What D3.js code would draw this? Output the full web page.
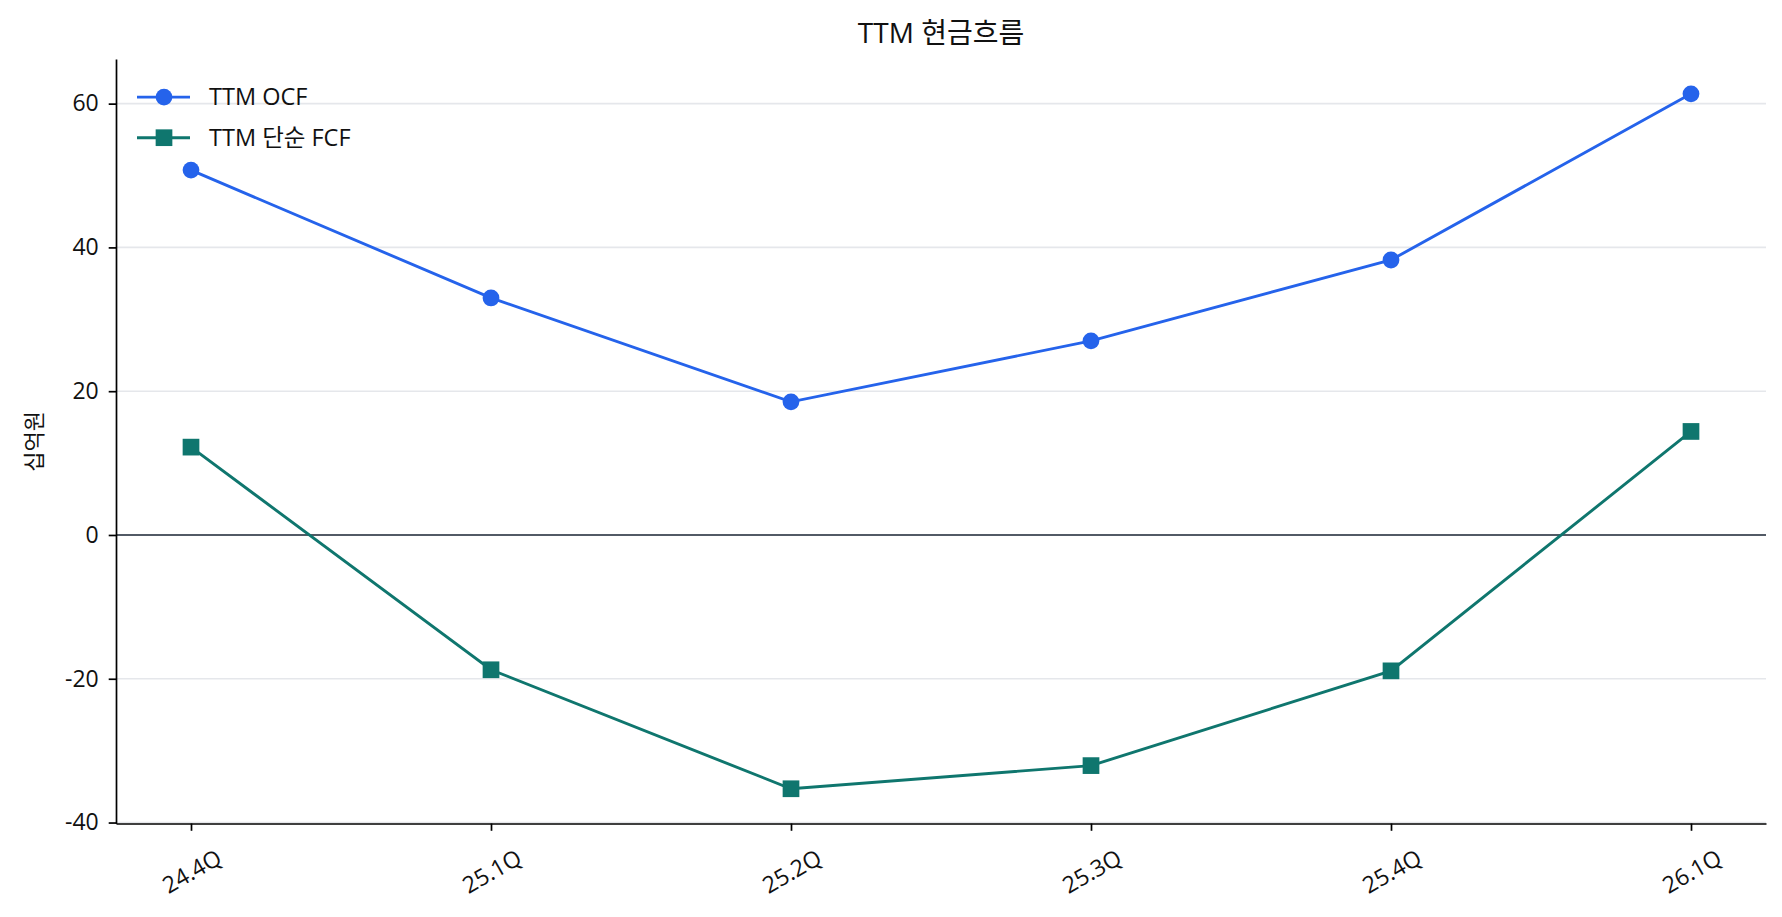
<!DOCTYPE html>
<html>
<head>
<meta charset="utf-8">
<script src="https://cdn.jsdelivr.net/npm/d3@7"></script>
<style>
    body { margin: 0; background: #fff; }
    svg text { font-family: "Open Sans", "Noto Sans CJK KR", sans-serif; fill: #111; }
</style>
</head>
<body>
<div id="chart_ttm"></div>
<script>
const quarters = ["24.4Q", "25.1Q", "25.2Q", "25.3Q", "25.4Q", "26.1Q"];
const ttmOcf = [50.75, 32.97, 18.52, 27.0, 38.25, 61.36];
const ttmFcf = [12.22, -18.75, -35.3, -32.08, -18.9, 14.4];
const seriesNames = ["TTM OCF", "TTM 단순 FCF"];
const yTicks = [-40, -20, 0, 20, 40, 60];

function create_linechart(id_chart, margin, width, height) {

    const series = [
        {name: seriesNames[0], values: ttmOcf, color: "#2563eb", marker: "circle"},
        {name: seriesNames[1], values: ttmFcf, color: "#0f766e", marker: "square"}
    ];

    const all = ttmOcf.concat(ttmFcf);
    const lo = d3.min(all), hi = d3.max(all);
    const pad = (hi - lo) * 0.05;

    const x = d3.scalePoint()
        .domain(quarters)
        .range([0, width])
        .padding(0.25);
    const y = d3.scaleLinear()
        .domain([lo - pad, hi + pad])
        .range([height, 0]);

    const svg = d3.select(id_chart)
        .append("svg")
        .attr("width", width + margin.left + margin.right)
        .attr("height", height + margin.top + margin.bottom)
        .append("g")
        .attr("transform", "translate(" + margin.left + "," + margin.top + ")");

    // grid
    svg.append("g")
        .selectAll("line")
        .data(yTicks)
        .enter().append("line")
        .attr("x1", 0)
        .attr("x2", width)
        .attr("y1", d => y(d))
        .attr("y2", d => y(d))
        .style("stroke", "#e5e7eb")
        .style("stroke-width", 1.6);

    // zero line
    svg.append("line")
        .attr("x1", 0)
        .attr("x2", width)
        .attr("y1", y(0))
        .attr("y2", y(0))
        .style("stroke", "#1f2937")
        .style("stroke-width", 1.6);

    const yAxis = svg.append("g")
        .call(d3.axisLeft(y).tickValues(yTicks).tickSize(7.3).tickSizeOuter(0)
            .tickPadding(10).tickFormat(d => String(d)));
    const xAxis = svg.append("g")
        .attr("transform", "translate(0," + height + ")")
        .call(d3.axisBottom(x).tickSize(7.3).tickSizeOuter(0));

    [yAxis, xAxis].forEach(function (a) {
        a.select(".domain").style("stroke", "#000").style("stroke-width", 1.7);
        a.selectAll(".tick line").style("stroke", "#000").style("stroke-width", 1.7);
        a.selectAll(".tick text").style("font-size", "23px").style("fill", "#111");
    });

    xAxis.selectAll(".tick text")
        .attr("y", 0)
        .attr("dy", null)
        .attr("text-anchor", "middle")
        .attr("dominant-baseline", "central")
        .attr("transform", "translate(0,47) rotate(-30)");

    const line = d3.line()
        .x((d, i) => x(quarters[i]))
        .y(d => y(d));

    series.forEach(function (s) {
        svg.append("path")
            .datum(s.values)
            .attr("d", line)
            .style("fill", "none")
            .style("stroke", s.color)
            .style("stroke-width", 2.9);

        const sym = d3.symbol()
            .type(s.marker === "circle" ? d3.symbolCircle : d3.symbolSquare)
            .size(s.marker === "circle" ? Math.PI * 8.4 * 8.4 : 16.7 * 16.7);

        svg.selectAll(".m-" + s.marker)
            .data(s.values)
            .enter().append("path")
            .attr("class", "m-" + s.marker)
            .attr("d", sym)
            .attr("transform", (d, i) => "translate(" + x(quarters[i]) + "," + y(d) + ")")
            .style("fill", s.color);
    });

    // legend
    const legend = svg.append("g")
        .attr("transform", "translate(21,38)");
    series.forEach(function (s, i) {
        const g = legend.append("g")
            .attr("transform", "translate(0," + (i * 40.6) + ")");
        g.append("line")
            .attr("x1", 0)
            .attr("x2", 53)
            .style("stroke", s.color)
            .style("stroke-width", 2.9);
        g.append("path")
            .attr("d", d3.symbol()
                .type(s.marker === "circle" ? d3.symbolCircle : d3.symbolSquare)
                .size(s.marker === "circle" ? Math.PI * 8.4 * 8.4 : 16.7 * 16.7))
            .attr("transform", "translate(27,0)")
            .style("fill", s.color);
        g.append("text")
            .attr("x", 72)
            .attr("dy", "0.35em")
            .style("font-size", "23.5px")
            .text(s.name);
    });

    // title and y label
    svg.append("text")
        .attr("x", width / 2)
        .attr("y", -16)
        .attr("text-anchor", "middle")
        .style("font-size", "28px")
        .text("TTM 현금흐름");

    svg.append("text")
        .attr("transform", "translate(-82," + (height / 2) + ") rotate(-90)")
        .attr("text-anchor", "middle")
        .attr("dy", "0.35em")
        .style("font-size", "22px")
        .text("십억원");
}

const margin = {top: 59.1, right: 16, bottom: 93.5, left: 116},
    width = 1782 - margin.left - margin.right,
    height = 917 - margin.top - margin.bottom;
create_linechart("#chart_ttm", margin, width, height);
</script>
</body>
</html>
